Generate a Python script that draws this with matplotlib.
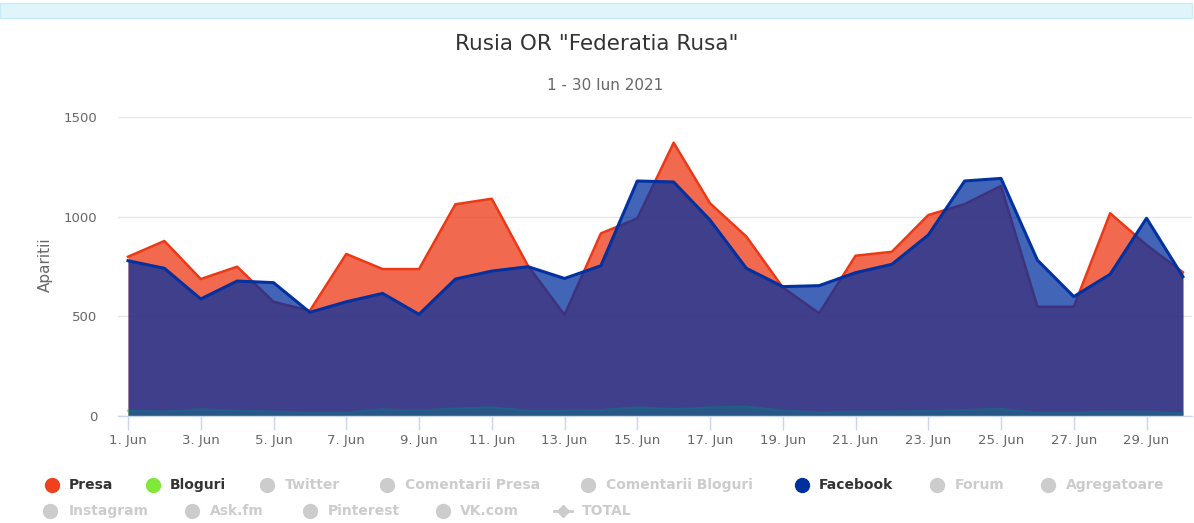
import matplotlib
matplotlib.use("Agg")
import matplotlib.pyplot as plt
from matplotlib.patches import Rectangle
from matplotlib.lines import Line2D

# ---- data ----
days = list(range(1, 31))
presa = [799, 878, 687, 749, 573, 528, 813, 737, 737, 1062, 1090, 752, 507, 916, 991,
         1371, 1067, 900, 645, 515, 804, 824, 1008, 1063, 1154, 548, 548, 1017, 858, 721]
bloguri = [27, 22, 33, 27, 22, 17, 17, 33, 27, 38, 43, 27, 27, 30, 43,
           35, 43, 47, 27, 18, 22, 22, 25, 30, 35, 17, 17, 22, 22, 13]
facebook = [779, 741, 587, 677, 669, 520, 573, 615, 510, 687, 727, 749, 690, 754, 1179,
            1174, 983, 741, 649, 654, 719, 761, 908, 1179, 1192, 782, 599, 711, 992, 699]
tick_days = list(range(1, 30, 2))
tick_labels = [f"{d}. Jun" for d in tick_days]
y_ticks = [0, 500, 1000, 1500]

title = 'Rusia OR "Federatia Rusa"'
subtitle = "1 - 30 Iun 2021"
y_title = "Aparitii"

legend_names = ["Presa", "Bloguri", "Twitter", "Comentarii Presa", "Comentarii Bloguri",
                "Facebook", "Forum", "Agregatoare",
                "Instagram", "Ask.fm", "Pinterest", "VK.com", "TOTAL"]
legend_active = {"Presa": "#f0401e", "Bloguri": "#80e83a", "Facebook": "#0030a0"}

# ---- style ----
C_PRESA = "#ed3815"
C_BLOG = "#7ce83a"
C_FB = "#0331a0"
W, H = 1194, 523
fig = plt.figure(figsize=(W / 100, H / 100), dpi=100)
fig.patch.set_facecolor("white")

def fx(px):
    return px / W

def fy(py):
    return 1 - py / H

# top banner
fig.patches.append(Rectangle((0, fy(18)), fx(1192), fy(3) - fy(18), transform=fig.transFigure,
                             facecolor="#dff5fa", edgecolor="#c6edf6", linewidth=1))

ax = fig.add_axes([fx(118), fy(416), fx(1192) - fx(118), fy(117) - fy(416)])
ax.set_xlim(0.725, 30.25)
ax.set_ylim(0, 1500)

series = [(presa, C_PRESA, 1.8), (bloguri, C_BLOG, 1.5), (facebook, C_FB, 2.2)]
for i, (vals, col, lw) in enumerate(series):
    ax.fill_between(days, 0, vals, color=col, alpha=0.75, linewidth=0, zorder=2 + 2 * i)
    ax.plot(days, vals, color=col, linewidth=lw, zorder=3 + 2 * i, solid_joinstyle="round")

for s in ["top", "right", "left"]:
    ax.spines[s].set_visible(False)
ax.spines["bottom"].set_color("#ccd6eb")
ax.spines["bottom"].set_linewidth(1)
ax.spines["bottom"].set_zorder(10)

ax.set_yticks(y_ticks)
ax.set_yticklabels([str(v) for v in y_ticks])
ax.yaxis.grid(True, color="#e6e6e6", linewidth=1, zorder=0)
ax.set_axisbelow(True)
ax.tick_params(axis="y", length=0, pad=15, labelsize=9.5, labelcolor="#666666")

ax.set_xticks(tick_days)
ax.set_xticklabels(tick_labels)
ax.tick_params(axis="x", length=10, width=1, color="#ccd6eb", pad=3, labelsize=9.5,
               labelcolor="#666666")

fig.text(fx(45), fy(265), y_title, rotation=90, ha="center", va="center",
         fontsize=11, color="#666666")

fig.text(fx(597), fy(44), title, ha="center", va="center", fontsize=15.5, color="#333333")
fig.text(fx(605), fy(85), subtitle, ha="center", va="center", fontsize=11, color="#666666")

# legend (layout positions in px)
legend_layout = [(52, 69, 485), (153, 170, 485), (267, 285, 485), (387, 405, 485),
                 (588, 606, 485), (802, 819, 485), (937, 955, 485), (1048, 1066, 485),
                 (50, 69, 511), (192, 210, 511), (310, 328, 511), (443, 460, 511),
                 (563, 582, 511)]
for name, (dx, tx, ry) in zip(legend_names, legend_layout):
    active = name in legend_active
    mcol = legend_active.get(name, "#cccccc")
    tcol = "#333333" if active else "#cccccc"
    if name == "TOTAL":
        fig.lines.append(Line2D([fx(dx - 9), fx(dx + 9)], [fy(ry), fy(ry)], transform=fig.transFigure,
                                color="#cccccc", linewidth=2))
        fig.lines.append(Line2D([fx(dx)], [fy(ry)], transform=fig.transFigure, marker="D",
                                markersize=6, color="#cccccc", linestyle="none"))
    else:
        fig.lines.append(Line2D([fx(dx)], [fy(ry)], transform=fig.transFigure, marker="o",
                                markersize=10, color=mcol, linestyle="none"))
    fig.text(fx(tx), fy(ry), name, ha="left", va="center", fontsize=10, fontweight="bold",
             color=tcol)

fig.savefig("out.png", dpi=100)
